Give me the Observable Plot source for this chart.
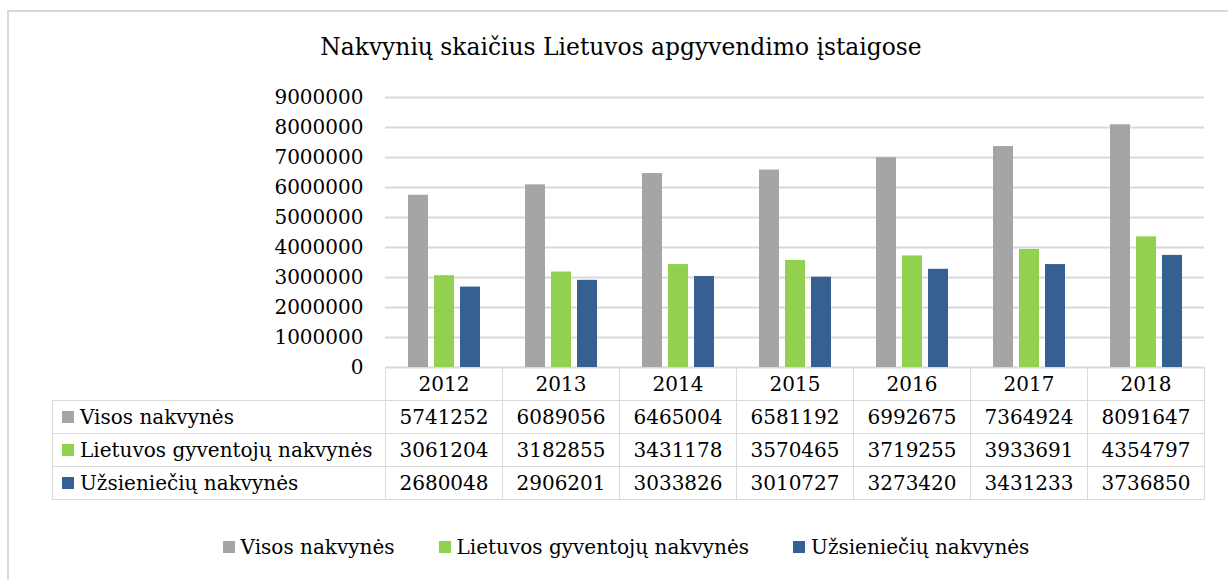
<!DOCTYPE html>
<html><head><meta charset="utf-8">
<script src="https://cdn.jsdelivr.net/npm/d3@7"></script>
<script src="https://cdn.jsdelivr.net/npm/@observablehq/plot@0.6"></script>
<style>
html,body{margin:0;padding:0;background:#fff;}
body{width:1228px;height:580px;overflow:hidden;position:relative;font-family:"DejaVu Serif",serif;color:#000;}
#frame{position:absolute;left:7px;top:10px;width:1240px;height:620px;border:2px solid #d9d9d9;box-sizing:border-box;}
#title{position:absolute;left:0;width:1242px;top:32px;text-align:center;font-size:23.4px;line-height:30px;white-space:nowrap;}
#chart{position:absolute;left:0;top:0;}
#chart svg, #chart svg text{font-family:"DejaVu Serif",serif !important;}
.cell{position:absolute;box-sizing:border-box;border:1px solid #d9d9d9;font-size:20px;display:flex;align-items:center;justify-content:center;white-space:nowrap;}
.cell.lab{justify-content:flex-start;padding-left:9px;}
.sw{display:inline-block;width:12px;height:12px;margin-right:6px;flex:none;}
#legend{position:absolute;left:0;width:1252px;top:535px;display:flex;justify-content:center;align-items:center;font-size:20px;white-space:nowrap;}
#legend .item{display:flex;align-items:center;margin:0 22px;}
</style>
</head><body>
<div id="frame"></div>
<div id="title">Nakvynių skaičius Lietuvos apgyvendimo įstaigose</div>
<div id="chart"></div>
<div id="table"></div>
<div id="legend"></div>
<script>
const years = ["2012","2013","2014","2015","2016","2017","2018"];
const series = ["Visos nakvynės","Lietuvos gyventojų nakvynės","Užsieniečių nakvynės"];
const colors = ["#A5A5A5","#92D050","#376092"];
const visos = [5741252,6089056,6465004,6581192,6992675,7364924,8091647];
const lietuvos = [3061204,3182855,3431178,3570465,3719255,3933691,4354797];
const uzsienieciu = [2680048,2906201,3033826,3010727,3273420,3431233,3736850];
const yTicks = [0,1000000,2000000,3000000,4000000,5000000,6000000,7000000,8000000,9000000];

const valuesBySeries = [visos, lietuvos, uzsienieciu];
const data = [];
years.forEach((yr,i)=>series.forEach((s,j)=>data.push({year:yr, series:s, value:valuesBySeries[j][i]})));

const chart = Plot.plot({
  width:1228, height:370,
  marginTop:97, marginBottom:3, marginLeft:383, marginRight:23,
  style:{fontFamily:"'DejaVu Serif', serif", fontSize:"20px", color:"#000", background:"transparent", overflow:"visible"},
  fx:{domain:years, padding:0, axis:null},
  x:{domain:series, paddingInner:0.245, paddingOuter:0.84, axis:null},
  y:{domain:[0,9000000], axis:null},
  color:{domain:series, range:colors},
  marks:[
    Plot.gridY(yTicks, {stroke:"#d9d9d9", strokeOpacity:1, strokeWidth:2}),
    Plot.axisY(yTicks, {tickSize:0, tickPadding:22, tickFormat:d=>String(d), label:null, fontSize:20}),
    Plot.barY(data, {fx:"year", x:"series", y:"value", fill:"series"})
  ]
});
document.getElementById("chart").appendChild(chart);

// data table positioned from the Plot fx scale
const fx = chart.scale("fx");
const bw = fx.bandwidth;
const tbl = document.getElementById("table");
const top0 = 367, rowH = 33, labLeft = 52;
function cell(left, top, w, h, html, cls){
  const d = document.createElement("div");
  d.className = "cell" + (cls ? " " + cls : "");
  d.style.left = left + "px"; d.style.top = top + "px";
  d.style.width = w + "px"; d.style.height = h + "px";
  d.innerHTML = html;
  tbl.appendChild(d);
}
years.forEach(yr=>cell(fx.apply(yr), top0, bw+1, rowH+1, yr));
series.forEach((s,j)=>{
  const t = top0 + (j+1)*rowH;
  cell(labLeft, t, fx.apply(years[0]) - labLeft + 1, rowH+1, `<span class="sw" style="background:${colors[j]}"></span>${s}`, "lab");
  years.forEach((yr,i)=>cell(fx.apply(yr), t, bw+1, rowH+1, String(valuesBySeries[j][i])));
});

// legend
const lg = document.getElementById("legend");
series.forEach((s,j)=>{
  const it = document.createElement("div");
  it.className = "item";
  it.innerHTML = `<span class="sw" style="background:${colors[j]}"></span>${s}`;
  lg.appendChild(it);
});
</script>
</body></html>
